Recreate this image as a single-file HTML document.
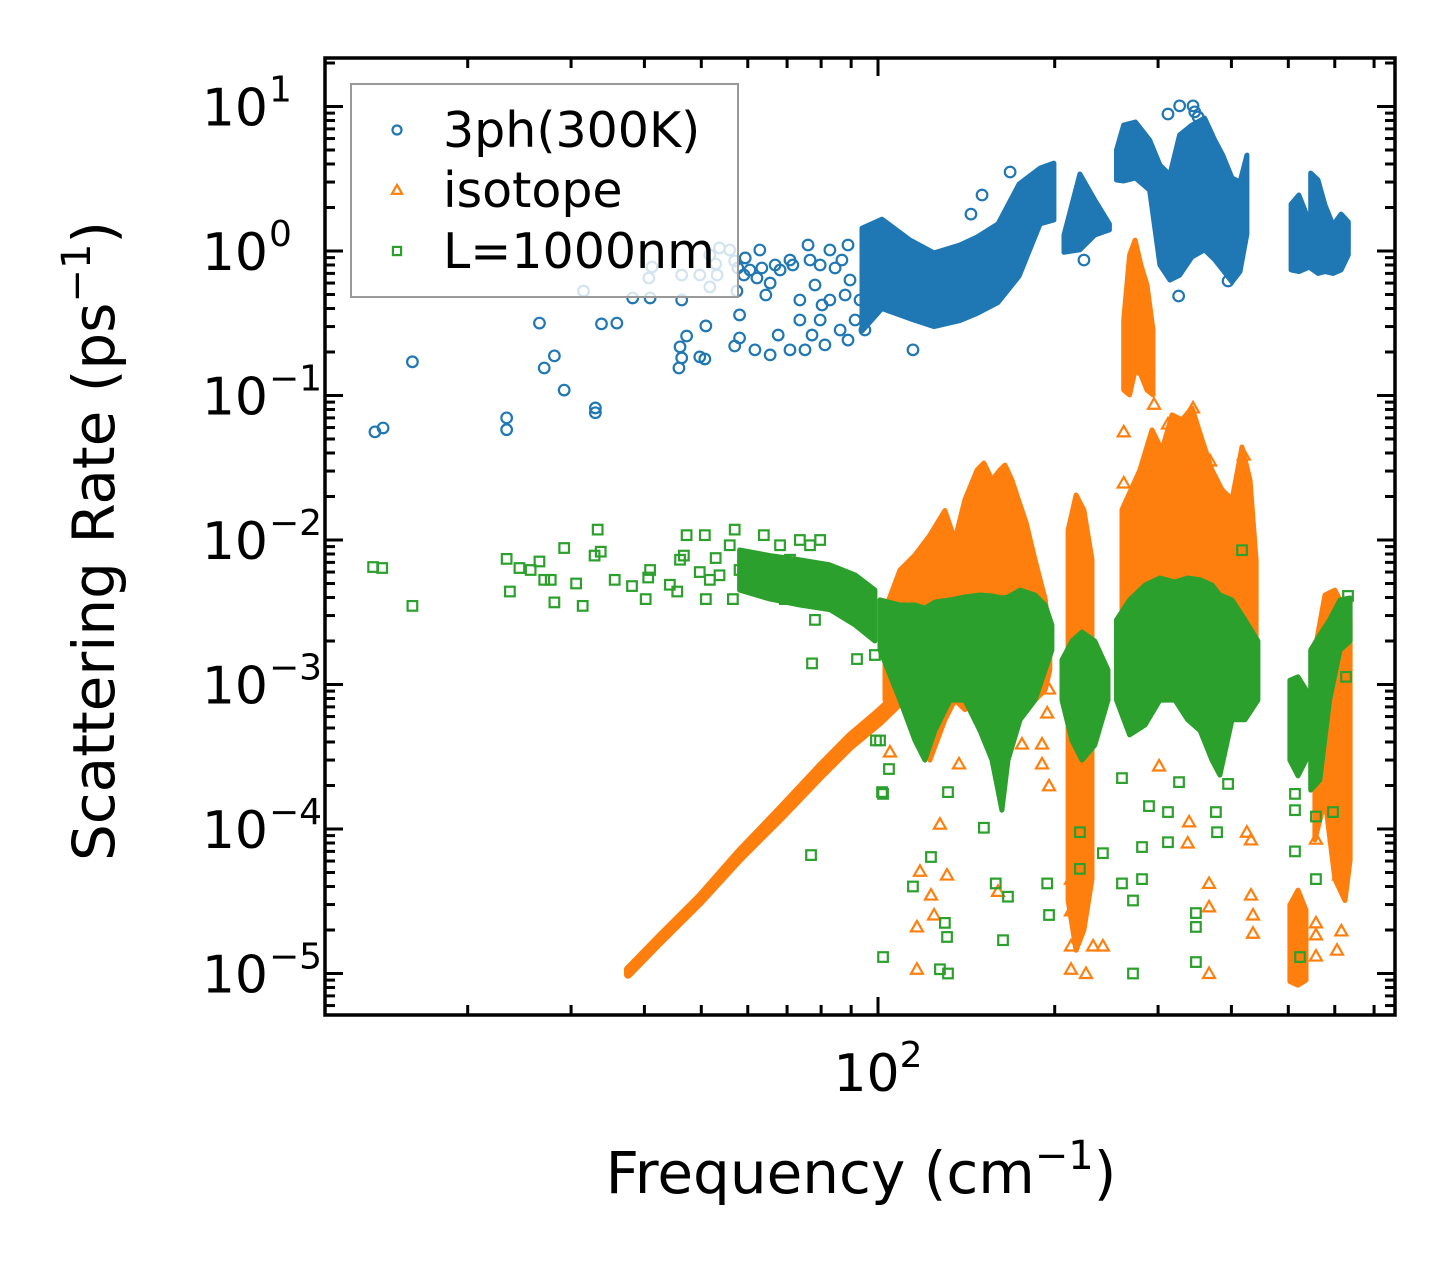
<!DOCTYPE html>
<html><head><meta charset="utf-8"><style>
html,body{margin:0;padding:0;background:#fff;}
svg{display:block;font-family:"DejaVu Sans","Liberation Sans",sans-serif;}
</style></head><body>
<svg id="chart" width="1455" height="1265" viewBox="0 0 1455 1265" xmlns="http://www.w3.org/2000/svg">
<rect width="1455" height="1265" fill="#fff"/>
<defs><clipPath id="plotclip"><rect x="325" y="58" width="1070" height="957"/></clipPath></defs>
<g id="data" clip-path="url(#plotclip)"></g>
<g id="axes"></g>
<g id="legend"></g>
</svg>
<script>
// ---- axis definitions ----
const xTickMajor = [100];
const xTickMajorLabels = ["2"];
const xTickMinor = [20,30,40,50,60,70,80,90,200,300,400,500,600,700];
const yTickMajor = [1e-5,1e-4,1e-3,1e-2,1e-1,1,10];
const yTickMajorLabels = ["\u22125","\u22124","\u22123","\u22122","\u22121","0","1"];
const seriesNames = ["3ph(300K)","isotope","L=1000nm"];

// ---- 3ph dense regions: freq, upper rate, lower rate ----
const blueBlob1F = [93.9,101.6,113.4,124.6,137.9,147.5,160.1,173.9,188.9,199.4];
const blueBlob1Hi = [1.44,1.66,1.19,0.97,1.10,1.25,1.54,2.91,3.75,4.06];
const blueBlob1Lo = [0.28,0.40,0.34,0.30,0.33,0.37,0.44,0.67,1.54,1.64];
const blueBlob2F = [207.4,220.8,234.1,247.9];
const blueBlob2Hi = [1.29,3.41,2.25,1.54];
const blueBlob2Lo = [0.98,1.02,1.29,1.40];
const blueBlob3F = [254.9,262.2,274.6,290.2,302.2,314.3,326.5,342.7,360.1,374.6,386.5,401.0,413.7,425.0];
const blueBlob3Hi = [5.0,7.45,7.81,5.86,3.94,3.36,6.35,7.45,8.33,5.86,4.61,3.20,3.0,4.61];
const blueBlob3Lo = [3.1,3.05,3.2,2.64,0.80,0.63,0.68,0.91,1.02,0.87,0.74,0.61,0.72,1.31];
const blueBlob4F = [505.5,521.3,537.6];
const blueBlob4Hi = [2.11,2.44,1.77];
const blueBlob4Lo = [0.74,0.72,0.76];
const blueBlob5F = [546.0,561.8,577.5,595.9,615.0,632.7];
const blueBlob5Hi = [3.46,3.10,2.08,1.51,1.80,1.59];
const blueBlob5Lo = [0.76,0.70,0.72,0.70,0.74,0.94];
// ---- 3ph scattered points ----
const blueF = [13.9,14.35,16.1,23.3,23.3,26.5,27.0,28.1,29.2,31.5,33.0,33.0,33.8,35.9,38.2,40.7,40.9,41.2,45.8,46.0,46.3,46.3,46.3,47.2,49.7,49.7,50.7,50.9,51.7,51.7,52.9,53.2,53.7,55.9,57.0,57.5,58.1,59.4,60.5,62.9,64.4,65.5,67.6,68.1,71.6,73.6,75.1,76.6,78.1,79.7,81.2,82.8,86.2,87.9,89.6,57.0,58.1,61.7,65.5,70.8,73.6,77.2,80.3,84.5,86.8,88.9,70.8,66.8,63.4,57.7,59.1,62.2,79.7,82.8,76.0,88.9,91.4,93.2,95.0,96.9,311.9,326.5,344.1,346.4,350.9,325.2,394.8,224.3,114.7,144.0,150.4,167.9];
const blueR = [0.056,0.0596,0.171,0.070,0.058,0.317,0.155,0.188,0.109,0.528,0.082,0.076,0.313,0.317,0.473,0.65,0.473,0.775,0.155,0.217,0.182,0.458,0.682,0.258,0.682,0.185,0.179,0.303,0.564,0.938,0.813,0.682,1.05,1.016,0.853,0.528,0.361,0.895,0.739,1.016,0.496,0.60,0.262,0.739,0.80,0.458,0.207,0.866,0.582,0.333,0.224,0.458,0.284,0.496,0.63,0.220,0.250,0.207,0.191,0.207,0.333,0.262,0.423,0.763,0.866,1.10,0.866,0.80,0.763,0.763,0.682,0.65,0.80,1.016,1.10,0.242,0.333,0.458,0.284,0.391,8.87,10.1,10.1,9.18,8.47,0.488,0.62,0.866,0.207,1.80,2.44,3.52];

// ---- isotope dense regions ----
const orgBlob1F = [37.5,42.5,49.7,58.1,68.1,79.7,89.6,100.8,109.0];
const orgBlob1Hi = [1.07e-5,1.80e-5,3.40e-5,7.0e-5,1.37e-4,2.72e-4,4.40e-4,6.60e-4,9.0e-4];
const orgBlob1Lo = [9.8e-6,1.65e-5,3.10e-5,6.2e-5,1.18e-4,2.30e-4,3.70e-4,5.50e-4,7.5e-4];
const orgBlob2F = [102.8,109.0,115.6,122.6,130.0,135.2,140.6,147.5,151.5,156.4,161.3,164.6,169.1,174.6,178.8,185.1,192.7,196.2];
const orgBlob2Hi = [0.00328,0.0062,0.00787,0.0108,0.016,0.010,0.019,0.0305,0.0341,0.026,0.0305,0.0330,0.026,0.0175,0.0132,0.0073,0.0039,0.0020];
const orgBlob2Lo = [7.8e-4,9.2e-4,5.7e-4,3.0e-4,5.7e-4,7.8e-4,6.7e-4,7.8e-4,7.8e-4,4.8e-4,4.1e-4,4.1e-4,7.8e-4,7.8e-4,7.8e-4,7.8e-4,9.2e-4,1.26e-3];
const orgBlob3F = [210.8,217.5,224.3,231.5];
const orgBlob3Hi = [0.0117,0.0205,0.0161,0.0073];
const orgBlob3Lo = [3.2e-5,1.45e-5,2.0e-5,4.5e-5];
const orgBlob4F = [262.2,268.3,274.1,280.5,287.3,294.1];
const orgBlob4Hi = [0.333,0.938,1.19,0.80,0.582,0.284];
const orgBlob4Lo = [0.109,0.101,0.150,0.139,0.109,0.101];
const orgBlob5F = [260.4,279.4,292.9,304.6,316.9,329.5,342.7,356.5,370.7,385.5,401.0,417.0,430.2,440.6];
const orgBlob5Hi = [0.0162,0.0305,0.0578,0.0418,0.0734,0.0678,0.0821,0.0493,0.0305,0.0223,0.019,0.0440,0.026,0.0073];
const orgBlob5Lo = [0.00279,0.0020,0.00173,0.00173,0.00173,0.00173,0.00173,0.00173,0.00173,0.00173,0.00173,0.00148,0.00148,0.00173];
const orgBlob6F = [503.2,519.3,535.9];
const orgBlob6Hi = [2.98e-5,3.78e-5,2.75e-5];
const orgBlob6Lo = [8.8e-6,8.3e-6,9.0e-6];
const orgBlob7F = [555.1,577.5,600.4,624.6,637.2];
const orgBlob7Hi = [0.00173,0.00416,0.0045,0.00328,0.0028];
const orgBlob7Lo = [8.4e-5,1.6e-4,4.5e-5,3.2e-5,6.1e-5];
// ---- isotope scattered points ----
const orgF = [116.5,116.5,124.6,131.1,117.9,123.1,127.5,137.4,104.8,160.1,175.9,190.3,190.3,195.6,195.6,194.2,213.2,213.2,213.2,213.2,226.1,241.6,232.5,262.2,262.2,295.3,301.2,337.0,338.8,366.4,366.4,366.4,425.0,431.9,431.9,435.3,435.3,367.9,378.1,344.1,311.9,419.9,557.3,557.3,557.3,605.3,615.7,610.0,600.4,557.3];
const orgR = [1.07e-5,2.1e-5,2.54e-5,4.8e-5,5.1e-5,3.49e-5,1.08e-4,2.82e-4,3.41e-4,3.7e-5,3.87e-4,3.87e-4,2.82e-4,1.99e-4,9.3e-4,6.35e-4,4.5e-5,2.71e-5,1.55e-5,1.07e-5,1.0e-5,1.55e-5,1.55e-5,0.056,0.0248,0.087,2.73e-4,8.0e-5,1.12e-4,4.2e-5,2.89e-5,1.0e-5,9.5e-5,8.4e-5,3.49e-5,2.54e-5,1.9e-5,0.0352,0.0218,0.082,0.0635,0.0387,8.5e-5,2.24e-5,1.32e-5,1.45e-5,1.97e-5,4.8e-5,8.9e-5,1.85e-5];

// ---- L=1000nm dense regions ----
const grnBlob1F = [58.1,65.5,73.6,82.8,91.4,98.8];
const grnBlob1Hi = [0.00853,0.0078,0.00728,0.00672,0.00573,0.00451];
const grnBlob1Lo = [0.0045,0.0039,0.00355,0.0033,0.00258,0.0020];
const grnBlob2F = [100.8,109.0,115.6,120.2,125.0,132.7,140.6,149.2,156.4,162.6,166.5,174.6,185.1,192.7,197.8];
const grnBlob2Hi = [0.00385,0.00355,0.00355,0.00338,0.00372,0.00385,0.00403,0.00416,0.0041,0.00397,0.00403,0.0045,0.00416,0.00355,0.00258];
const grnBlob2Lo = [0.00173,7.8e-4,4.1e-4,3.0e-4,4.8e-4,7.8e-4,7.8e-4,4.8e-4,3.0e-4,1.35e-4,3.0e-4,5.7e-4,7.8e-4,1.26e-3,0.00173];
const grnBlob3F = [205.8,214.0,222.6,234.1,246.5];
const grnBlob3Hi = [0.00148,0.0020,0.00231,0.0020,0.00126];
const grnBlob3Lo = [7.8e-4,4.1e-4,3.0e-4,3.81e-4,7.8e-4];
const grnBlob4F = [254.9,268.3,285.1,302.2,320.6,337.0,353.8,370.7,382.4,401.0,421.9,443.8];
const grnBlob4Hi = [0.0028,0.00385,0.00488,0.00546,0.00512,0.00546,0.0053,0.00488,0.00416,0.00385,0.0028,0.0020];
const grnBlob4Lo = [7.8e-4,4.48e-4,5.25e-4,7.8e-4,7.8e-4,5.7e-4,4.8e-4,3.0e-4,2.36e-4,5.7e-4,5.7e-4,7.8e-4];
const grnBlob5F = [503.2,519.3,535.9];
const grnBlob5Hi = [0.00107,0.00113,9.2e-4];
const grnBlob5Lo = [3.0e-4,2.33e-4,3.0e-4];
const grnBlob6F = [546.0,565.7,587.9,612.4,637.2];
const grnBlob6Hi = [0.00173,0.0022,0.0028,0.00385,0.00397];
const grnBlob6Lo = [1.86e-4,2.18e-4,7.8e-4,0.00173,0.0020];
// ---- L=1000nm scattered points ----
const grnF = [13.8,14.3,16.1,23.3,23.6,24.5,25.6,26.5,27.0,27.7,28.1,29.2,30.6,31.4,32.9,33.3,33.7,35.6,38.1,40.2,40.6,40.9,44.2,45.5,46.0,46.7,47.2,49.7,50.7,50.9,51.7,52.9,53.7,55.9,56.6,57.0,58.1,59.4,60.5,62.9,63.9,65.5,68.1,69.4,70.8,73.6,75.1,76.6,78.1,79.7,77.2,76.9,92.1,98.8,99.2,102.0,101.6,102.0,104.4,100.8,114.7,130.0,131.1,127.5,131.6,123.1,131.6,151.5,163.3,166.5,158.7,195.6,194.2,220.8,220.8,241.6,260.4,271.9,271.9,281.7,281.7,289.5,260.4,311.9,325.7,311.9,348.0,348.0,348.0,378.1,376.4,394.8,417.0,513.3,513.3,513.3,557.3,557.3,523.5,632.0,627.1,595.9];
const grnR = [0.0065,0.0064,0.0035,0.0074,0.0044,0.0064,0.0062,0.0071,0.0053,0.0053,0.0037,0.0088,0.0050,0.0035,0.0078,0.0118,0.0083,0.0053,0.0048,0.0039,0.0055,0.0062,0.0049,0.0044,0.0073,0.0078,0.0108,0.0060,0.0108,0.0039,0.0053,0.0075,0.0057,0.0092,0.0039,0.0118,0.0062,0.0053,0.0073,0.0067,0.0108,0.0053,0.0092,0.0039,0.0073,0.010,0.0057,0.0092,0.0028,0.010,0.0014,6.6e-5,0.0015,0.0016,4.1e-4,1.3e-5,1.8e-4,1.75e-4,2.6e-4,4.1e-4,4.0e-5,2.24e-5,1.79e-5,1.07e-5,1.0e-5,6.4e-5,1.8e-4,1.02e-4,1.7e-5,3.4e-5,4.2e-5,2.54e-5,4.2e-5,5.3e-5,9.5e-5,6.8e-5,4.2e-5,3.2e-5,1.0e-5,7.5e-5,4.5e-5,1.44e-4,2.25e-4,1.31e-4,2.11e-4,8.1e-5,2.62e-5,2.1e-5,1.2e-5,9.5e-5,1.31e-4,2.05e-4,0.0085,7.0e-5,1.35e-4,1.75e-4,4.5e-5,1.22e-4,1.3e-5,0.0041,0.00113,1.31e-4];

// ---- scales ----
const X0 = 325, X1 = 1395, Y0 = 58, Y1 = 1015;
function xS(f){ return 878 + 587*(Math.log10(f) - 2); }
function yS(r){ return 251 - 144.5*Math.log10(r); }

const NS = "http://www.w3.org/2000/svg";
function mk(tag, attrs, parent){
  const e = document.createElementNS(NS, tag);
  for (const k in attrs) e.setAttribute(k, attrs[k]);
  parent.appendChild(e);
  return e;
}
const gData = document.getElementById('data');
const gAxes = document.getElementById('axes');
const gLeg = document.getElementById('legend');
const COL = ["#1f77b4","#ff7f0e","#2ca02c"];

function blob(F, Hi, Lo, color, name, sw){
  let pts = [];
  for (let i=0;i<F.length;i++) pts.push(xS(F[i]).toFixed(1)+","+yS(Hi[i]).toFixed(1));
  for (let i=F.length-1;i>=0;i--) pts.push(xS(F[i]).toFixed(1)+","+yS(Lo[i]).toFixed(1));
  const p = mk('polygon', {points: pts.join(' '), fill: color, stroke: color, 'stroke-width': (sw||5), 'stroke-linejoin':'round'}, gData);
  
  
}
function marker(kind, cx, cy, color, parent, s){
  let e;
  if (kind===0){
    e = mk('circle', {cx:cx, cy:cy, r:5.3*s, fill:'none', stroke:color, 'stroke-width':2.2}, parent);
  } else if (kind===1){
    const h = 6*s;
    e = mk('polygon', {points: `${cx},${cy-h} ${cx-h},${cy+h*0.75} ${cx+h},${cy+h*0.75}`, fill:'none', stroke:color, 'stroke-width':2.2, 'stroke-linejoin':'miter'}, parent);
  } else {
    const h = 4.8*s;
    e = mk('rect', {x:cx-h, y:cy-h, width:2*h, height:2*h, fill:'none', stroke:color, 'stroke-width':2.2}, parent);
  }
  return e;
}
function scatter(F, R, kind, name){
  for (let i=0;i<F.length;i++){
    const e = marker(kind, xS(F[i]), yS(R[i]), COL[kind], gData, 1);
    
    
  }
}

// draw 3ph
blob(blueBlob1F, blueBlob1Hi, blueBlob1Lo, COL[0], '3ph-cluster-1');
blob(blueBlob2F, blueBlob2Hi, blueBlob2Lo, COL[0], '3ph-cluster-2');
blob(blueBlob3F, blueBlob3Hi, blueBlob3Lo, COL[0], '3ph-cluster-3');
blob(blueBlob4F, blueBlob4Hi, blueBlob4Lo, COL[0], '3ph-cluster-4');
blob(blueBlob5F, blueBlob5Hi, blueBlob5Lo, COL[0], '3ph-cluster-5');
scatter(blueF, blueR, 0, '3ph-point');
// draw isotope
blob(orgBlob1F, orgBlob1Hi, orgBlob1Lo, COL[1], 'isotope-cluster-1', 8);
blob(orgBlob2F, orgBlob2Hi, orgBlob2Lo, COL[1], 'isotope-cluster-2');
blob(orgBlob3F, orgBlob3Hi, orgBlob3Lo, COL[1], 'isotope-cluster-3');
blob(orgBlob4F, orgBlob4Hi, orgBlob4Lo, COL[1], 'isotope-cluster-4');
blob(orgBlob5F, orgBlob5Hi, orgBlob5Lo, COL[1], 'isotope-cluster-5');
blob(orgBlob6F, orgBlob6Hi, orgBlob6Lo, COL[1], 'isotope-cluster-6');
blob(orgBlob7F, orgBlob7Hi, orgBlob7Lo, COL[1], 'isotope-cluster-7');
scatter(orgF, orgR, 1, 'isotope-point');
// draw boundary
blob(grnBlob1F, grnBlob1Hi, grnBlob1Lo, COL[2], 'boundary-cluster-1');
blob(grnBlob2F, grnBlob2Hi, grnBlob2Lo, COL[2], 'boundary-cluster-2');
blob(grnBlob3F, grnBlob3Hi, grnBlob3Lo, COL[2], 'boundary-cluster-3');
blob(grnBlob4F, grnBlob4Hi, grnBlob4Lo, COL[2], 'boundary-cluster-4');
blob(grnBlob5F, grnBlob5Hi, grnBlob5Lo, COL[2], 'boundary-cluster-5');
blob(grnBlob6F, grnBlob6Hi, grnBlob6Lo, COL[2], 'boundary-cluster-6');
scatter(grnF, grnR, 2, 'boundary-point');

// ---- axes ----
const frame = mk('rect', {x:X0, y:Y0, width:X1-X0, height:Y1-Y0, fill:'none', stroke:'#000', 'stroke-width':3.5}, gAxes);



function tickLine(x1,y1,x2,y2,name){
  const l = mk('line', {x1:x1,y1:y1,x2:x2,y2:y2, stroke:'#000', 'stroke-width':3}, gAxes);
  
  
}
xTickMajor.forEach((v,i)=>{
  const x = xS(v);
  tickLine(x, Y1, x, Y1-18, 'x-major-tick');
  tickLine(x, Y0, x, Y0+18, 'x-major-tick-top');
  const t = mk('text', {x:x, y:1091, 'font-size':52, 'text-anchor':'middle', fill:'#000'}, gAxes);
  
  
  t.innerHTML = `10<tspan dy="-24" font-size="36">${xTickMajorLabels[i]}</tspan>`;
});
xTickMinor.forEach(v=>{
  const x = xS(v);
  tickLine(x, Y1, x, Y1-10, 'x-minor-tick');
  tickLine(x, Y0, x, Y0+10, 'x-minor-tick-top');
});
yTickMajor.forEach((v,i)=>{
  const y = yS(v);
  tickLine(X0, y, X0+18, y, 'y-major-tick');
  tickLine(X1, y, X1-18, y, 'y-major-tick-right');
  const t = mk('text', {x:268, y:y+19, 'font-size':52, 'text-anchor':'end', fill:'#000'}, gAxes);
  
  
  t.textContent = '10';
  const s = mk('text', {x:269, y:y-5, 'font-size':36, 'text-anchor':'start', fill:'#000'}, gAxes);
  
  
  s.textContent = yTickMajorLabels[i];
  for (let m=2;m<=9;m++){
    const ym = yS(v*m);
    if (ym > Y0 && ym < Y1){
      tickLine(X0, ym, X0+10, ym, 'y-minor-tick');
      tickLine(X1, ym, X1-10, ym, 'y-minor-tick-right');
    }
  }
  for (let m=2;m<=9;m++){
    const ym = yS(v/10*m);
    if (i===0 && ym > Y0 && ym < Y1){
      tickLine(X0, ym, X0+10, ym, 'y-minor-tick');
      tickLine(X1, ym, X1-10, ym, 'y-minor-tick-right');
    }
  }
});
const xt = mk('text', {x:861, y:1193, 'font-size':58, 'text-anchor':'middle', fill:'#000'}, gAxes);


xt.innerHTML = 'Frequency (cm<tspan dy="-24" font-size="40">\u22121</tspan><tspan dy="24">)</tspan>';
const yt = mk('text', {x:0, y:0, 'font-size':58, 'text-anchor':'middle', fill:'#000', transform:'translate(114,541) rotate(-90)'}, gAxes);


yt.innerHTML = 'Scattering Rate (ps<tspan dy="-24" font-size="40">\u22121</tspan><tspan dy="24">)</tspan>';

// ---- legend ----
const lb = mk('rect', {x:351, y:84, width:387, height:213, fill:'#fff', 'fill-opacity':0.8, stroke:'#999', 'stroke-width':2}, gLeg);


const legY = [130,190,251];
seriesNames.forEach((nm,i)=>{
  const m = marker(i, 397, legY[i], COL[i], gLeg, 0.85);
  
  
  const t = mk('text', {x:443, y:legY[i]+17, 'font-size':49, fill:'#000'}, gLeg);
  
  
  t.textContent = nm;
});
</script>
</body></html>
